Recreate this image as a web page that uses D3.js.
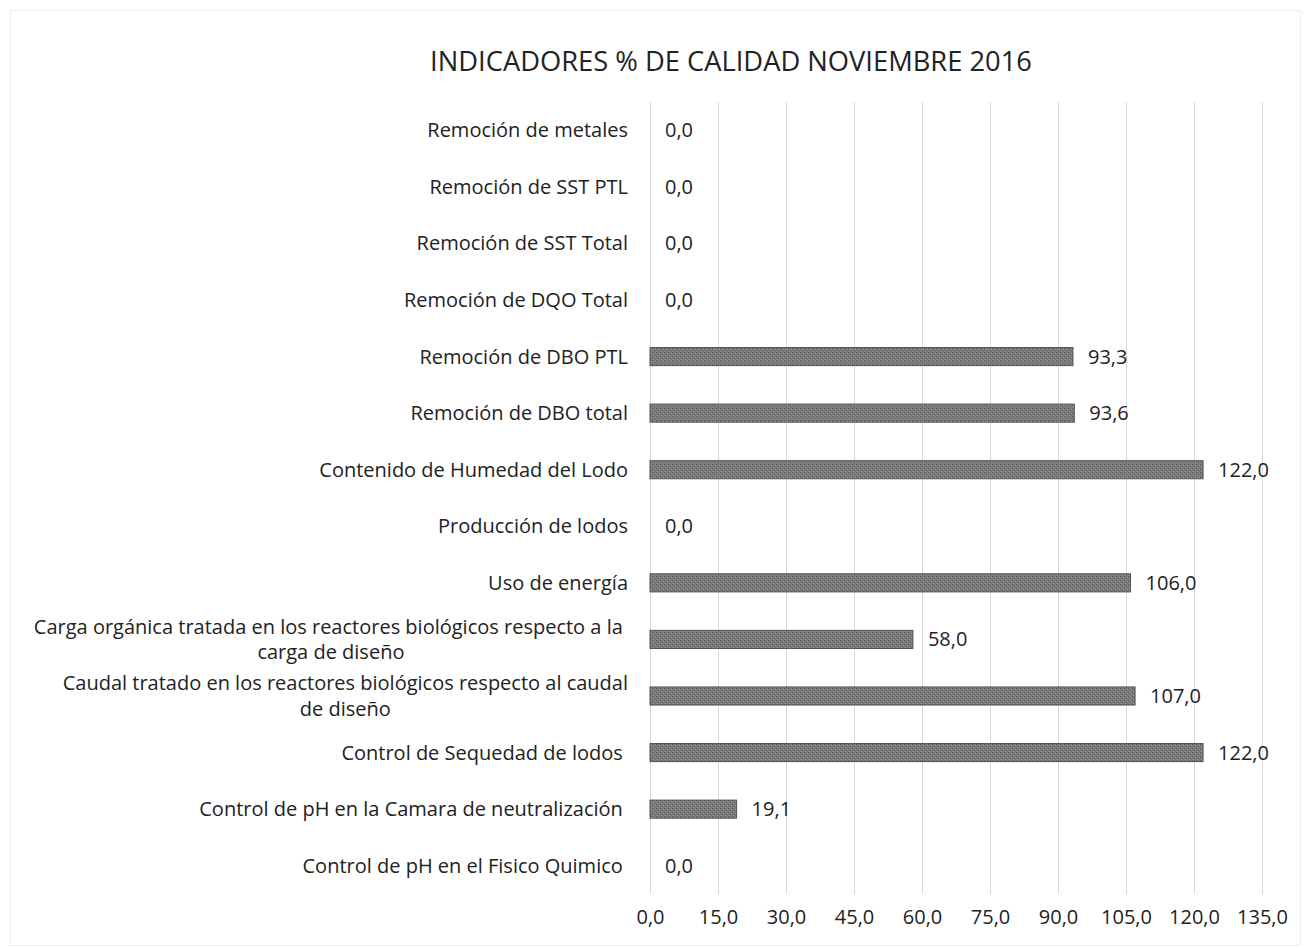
<!DOCTYPE html>
<html>
<head>
<meta charset="utf-8">
<script src="https://cdn.jsdelivr.net/npm/d3@7"></script>
<style>
  html, body { margin: 0; padding: 0; background: #fff; }
  svg text { font-family: "Open Sans", "Noto Sans", sans-serif; fill: #222; }
</style>
</head>
<body>
<svg id="chart" width="1304" height="948"></svg>
<script>
const title = "INDICADORES % DE CALIDAD NOVIEMBRE 2016";
const categories = [
  ["Remoción de metales"],
  ["Remoción de SST PTL"],
  ["Remoción de SST Total"],
  ["Remoción de DQO Total"],
  ["Remoción de DBO PTL"],
  ["Remoción de DBO total"],
  ["Contenido de Humedad del Lodo"],
  ["Producción de lodos"],
  ["Uso de energía"],
  ["Carga orgánica tratada en los reactores biológicos respecto a la ", "carga de diseño"],
  ["Caudal tratado en los reactores biológicos respecto al caudal", "de diseño"],
  ["Control de Sequedad de lodos "],
  ["Control de pH en la Camara de neutralización "],
  ["Control de pH en el Fisico Quimico "]
];
const values = [0.0, 0.0, 0.0, 0.0, 93.3, 93.6, 122.0, 0.0, 106.0, 58.0, 107.0, 122.0, 19.1, 0.0];
const tickValues = [0, 15, 30, 45, 60, 75, 90, 105, 120, 135];

const fmt = v => v.toFixed(1).replace(".", ",");
const FS = 20;
const FONT = "'Open Sans', 'Noto Sans', sans-serif";

const svg = d3.select("#chart");
const plot = { left: 650, right: 1262, top: 102, bottom: 894 };

svg.append("rect").attr("x", 10.5).attr("y", 10.5).attr("width", 1290).attr("height", 935)
  .attr("fill", "none").attr("stroke", "#ededed");

const defs = svg.append("defs");
const pat = defs.append("pattern").attr("id", "tex").attr("patternUnits", "userSpaceOnUse")
  .attr("width", 4).attr("height", 4);
pat.append("rect").attr("width", 4).attr("height", 4).attr("fill", "#7a7a7a");
pat.append("rect").attr("x", 0).attr("y", 0).attr("width", 1).attr("height", 1).attr("fill", "#5a5a5a");
pat.append("rect").attr("x", 2).attr("y", 2).attr("width", 1).attr("height", 1).attr("fill", "#626262");
pat.append("rect").attr("x", 3).attr("y", 1).attr("width", 1).attr("height", 1).attr("fill", "#949494");
pat.append("rect").attr("x", 1).attr("y", 3).attr("width", 1).attr("height", 1).attr("fill", "#949494");

const x = d3.scaleLinear().domain([0, 135]).range([plot.left, plot.right]);
const y = d3.scaleBand().domain(d3.range(categories.length))
  .range([plot.top, plot.bottom]).paddingInner(0.68).paddingOuter(0.34);

svg.append("text").attr("x", 731).attr("y", 71).attr("text-anchor", "middle")
  .attr("font-family", "Lato, 'Noto Sans', sans-serif")
  .attr("font-size", 27.3).text(title);

svg.append("g").selectAll("line").data(tickValues).join("line")
  .attr("x1", d => Math.round(x(d)) + 0.5).attr("x2", d => Math.round(x(d)) + 0.5)
  .attr("y1", plot.top).attr("y2", plot.bottom)
  .attr("stroke", "#dadada").attr("stroke-width", 1);

const xAxis = d3.axisBottom(x).tickValues(tickValues).tickFormat(fmt).tickSize(0).tickPadding(16);
const gx = svg.append("g").attr("transform", `translate(0,${plot.bottom})`).call(xAxis);
gx.select(".domain").remove();
gx.selectAll("text").attr("font-size", FS).attr("font-family", FONT).attr("fill", "#222");

svg.append("g").selectAll("rect").data(values).join("rect")
  .attr("x", x(0)).attr("y", (d, i) => y(i))
  .attr("width", d => x(d) - x(0)).attr("height", y.bandwidth())
  .attr("fill", "url(#tex)").attr("stroke", "#555").attr("stroke-width", 1)
  .style("display", d => d > 0 ? null : "none");

svg.append("g").selectAll("text").data(values).join("text")
  .attr("x", d => x(d) + 15).attr("y", (d, i) => y(i) + y.bandwidth() / 2)
  .attr("dy", "0.35em").attr("font-size", FS).text(fmt);

const labelRight = 628;
const lineH = 25.5;
const lg = svg.append("g");
categories.forEach((lines, i) => {
  const cy = y(i) + y.bandwidth() / 2;
  const t = lg.append("text").attr("font-size", FS).style("white-space", "pre");
  const n = lines.length;
  if (n === 1) {
    t.attr("x", labelRight).attr("y", cy).attr("dy", "0.35em").attr("text-anchor", "end").text(lines[0]);
  } else {
    const tmp = svg.append("text").attr("font-size", FS).style("white-space", "pre").text(lines[0]);
    const w = tmp.node().getComputedTextLength();
    tmp.remove();
    const cx = labelRight - w / 2;
    lines.forEach((ln, k) => {
      t.append("tspan").attr("x", cx).attr("text-anchor", "middle")
        .attr("y", cy + (k - (n - 1) / 2) * lineH).attr("dy", "0.35em").text(ln);
    });
  }
});
</script>
</body>
</html>
